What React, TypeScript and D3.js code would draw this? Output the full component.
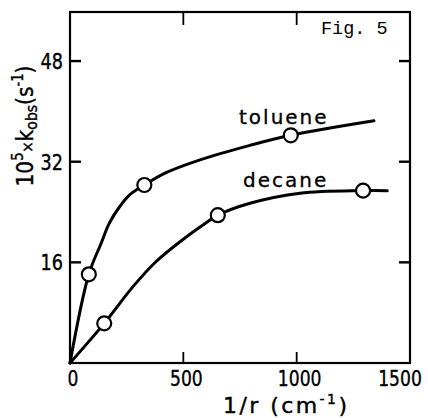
import React from "react";
import * as d3 from "d3";

// values
const xTicks = [0, 500, 1000, 1500];
const yTicks = [16, 32, 48];

// measured points (open circles)
const tolueneX = [83, 328, 974];
const tolueneY = [14.1, 28.3, 36.2];
const decaneX = [151, 652, 1293];
const decaneY = [6.3, 23.5, 27.4];

// hand-drawn fitted curves
const tolueneCurveX = [0, 83, 137, 173, 218, 262, 328, 426, 574, 794, 974, 1341];
const tolueneCurveY = [0, 14.1, 19.0, 22.2, 24.8, 26.7, 28.3, 30.3, 32.3, 34.6, 36.2, 38.5];
const decaneCurveX = [0, 151, 277, 379, 497, 585, 652, 794, 1015, 1293, 1400];
const decaneCurveY = [0, 6.3, 12.1, 16.1, 19.6, 21.9, 23.5, 25.4, 27.0, 27.4, 27.4];

const width = 428;
const height = 418;
const margin = { top: 12, right: 18, bottom: 55, left: 70 };

const App = (): JSX.Element => {
    const x = d3
        .scaleLinear()
        .domain([0, 1500])
        .range([margin.left, width - margin.right]);
    const y = d3
        .scaleLinear()
        .domain([0, 55.8])
        .range([height - margin.bottom, margin.top]);

    const line = d3
        .line<[number, number]>()
        .x((d) => x(d[0]))
        .y((d) => y(d[1]))
        .curve(d3.curveCatmullRom.alpha(0.5));

    const toluenePath = line(tolueneCurveX.map((v, i) => [v, tolueneCurveY[i]]));
    const decanePath = line(decaneCurveX.map((v, i) => [v, decaneCurveY[i]]));

    const x0 = x(0);
    const x1 = x(1500);
    const y0 = y(0);
    const y1 = y(55.8);
    const tick = 11;
    const font = "'DejaVu Sans', sans-serif";

    return (
        <svg
            width={width}
            height={height}
            viewBox={`0 0 ${width} ${height}`}
            style={{ position: "absolute", left: 0, top: 0, background: "#fff" }}
        >
            {/* frame */}
            <rect x={x0} y={y1} width={x1 - x0} height={y0 - y1} fill="none" stroke="#000" strokeWidth={2.2} />

            {/* inner ticks, left and right */}
            {yTicks.map((t) => (
                <g key={"y" + t} stroke="#000" strokeWidth={2.4}>
                    <line x1={x0} x2={x0 + tick} y1={y(t)} y2={y(t)} />
                    <line x1={x1} x2={x1 - tick} y1={y(t)} y2={y(t)} />
                </g>
            ))}
            {/* inner ticks, top and bottom */}
            {xTicks.slice(1, 3).map((t) => (
                <g key={"x" + t} stroke="#000" strokeWidth={1.8}>
                    <line x1={x(t)} x2={x(t)} y1={y1} y2={y1 + tick + 2} />
                    <line x1={x(t)} x2={x(t)} y1={y0} y2={y0 - tick} />
                </g>
            ))}

            {/* tick labels, narrowed to match the condensed lettering */}
            <g fontFamily={font} fontSize={22} fill="#000" stroke="#000" strokeWidth={0.4}>
                {yTicks.map((t) => (
                    <text key={t} transform={`translate(${x0 - 7},${y(t) + 8}) scale(0.8,1)`} textAnchor="end">
                        {t}
                    </text>
                ))}
                {xTicks.map((t) => (
                    <text
                        key={t}
                        transform={`translate(${Math.min(x(t) + 3, 400)},${y0 + 23}) scale(0.78,1)`}
                        textAnchor="middle"
                    >
                        {t}
                    </text>
                ))}
            </g>

            {/* axis titles */}
            <text
                x={223}
                y={413}
                fontFamily={font}
                fontSize={22}
                stroke="#000"
                strokeWidth={0.4}
                textLength={124}
                lengthAdjust="spacing"
            >
                1/r (cm<tspan fontSize={14} dy={-9}>-1</tspan>
                <tspan dy={9}>)</tspan>
            </text>
            <text
                transform={`translate(33,126) rotate(-90)`}
                fontFamily={font}
                fontSize={23}
                textAnchor="middle"
                stroke="#000"
                strokeWidth={0.4}
                textLength={121}
                lengthAdjust="spacingAndGlyphs"
            >
                10<tspan fontSize={15} dy={-10}>5</tspan>
                <tspan fontSize={15} dy={10}>×</tspan>k
                <tspan fontSize={16} dy={4}>obs</tspan>
                <tspan dy={-4}>(s</tspan>
                <tspan fontSize={15} dy={-10}>-1</tspan>
                <tspan dy={10}>)</tspan>
            </text>

            {/* curves */}
            <g fill="none" stroke="#000" strokeWidth={3} strokeLinejoin="round" strokeLinecap="round">
                <path d={toluenePath ?? ""} />
                <path d={decanePath ?? ""} />
            </g>

            {/* data points */}
            <g fill="#fff" stroke="#000" strokeWidth={2.2}>
                {tolueneX.map((v, i) => (
                    <circle key={"t" + i} cx={x(v)} cy={y(tolueneY[i])} r={7} />
                ))}
                {decaneX.map((v, i) => (
                    <circle key={"d" + i} cx={x(v)} cy={y(decaneY[i])} r={7} />
                ))}
            </g>

            {/* curve labels */}
            <g fontFamily={font} fontSize={20} letterSpacing={2} stroke="#000" strokeWidth={0.3}>
                <text x={239} y={124}>toluene</text>
                <text x={243} y={187}>decane</text>
            </g>
            <text x={321} y={34} fontFamily="'Liberation Mono', monospace" fontSize={18.5}>
                Fig. 5
            </text>
        </svg>
    );
};

export default App;
